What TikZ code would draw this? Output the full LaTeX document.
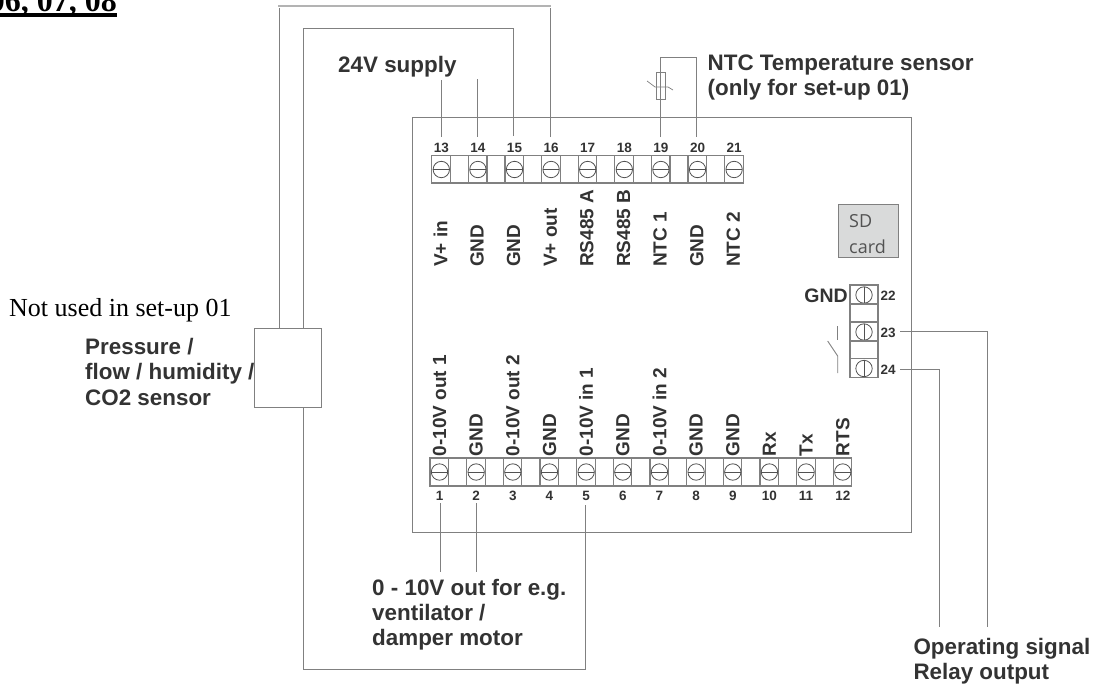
\documentclass[tikz,border=0pt]{standalone}
\usepackage{fontspec}
\setmainfont{Liberation Sans}
\newfontfamily\serifttl{Liberation Serif}
\newfontfamily\sdfont{Open Sans}
\definecolor{ink}{HTML}{333333}
\definecolor{wire}{HTML}{808080}
\definecolor{sdfill}{HTML}{D9DADA}
\tikzset{
  wireline/.style={draw=wire,line width=1pt},
  cellbox/.style={draw=wire,line width=1.2pt},
  screwc/.style={draw=ink!85,line width=0.8pt},
  lab/.style={font=\fontsize{22.4}{25.3}\selectfont\bfseries,text=ink,align=left,anchor=base west,inner sep=0pt},
  num/.style={font=\fontsize{13.5}{15}\selectfont\bfseries,text=ink,inner sep=0pt},
  vlab/.style={font=\fontsize{19}{22}\selectfont\bfseries,text=ink,rotate=90,inner sep=0pt},
}
\newcommand{\screwH}[2]{\draw[screwc] (#1,#2) circle (8.2pt); \draw[screwc] (#1-8.2,#2) -- (#1+8.2,#2);}
\newcommand{\screwV}[2]{\draw[screwc] (#1,#2) circle (8.2pt); \draw[screwc] (#1,#2-8.2) -- (#1,#2+8.2);}
\begin{document}
\begin{tikzpicture}[x=1pt,y=-1pt]
\useasboundingbox (0,0) rectangle (1097,686);
\clip (0,0) rectangle (1097,686);
% board
\node[draw=wire,line width=1.3pt,inner sep=0pt,anchor=north west,minimum width=499pt,minimum height=415pt] (board) at (412,117) {};
% top strip
\foreach \i/\n/\l in {0/13/V+ in,1/14/GND,2/15/GND,3/16/V+ out,4/17/RS485 A,5/18/RS485 B,6/19/NTC 1,7/20/GND,8/21/NTC 2}{
  \pgfmathsetmacro{\xx}{441.3+36.6*\i}
  \draw[cellbox] (\xx-9.5,155.5) rectangle (\xx+9,183);
  \ifnum\i<8 \draw[cellbox] (\xx+9,155.5) rectangle (\xx+27.1,183);\fi
  \screwH{\xx}{169.5}
  \node[num] at (\xx,148) {\n};
  \node[vlab,anchor=west] at (\xx-0.8,267) {\l};
}
% bottom strip
\foreach \i/\n/\l in {0/1/0-10V out 1,1/2/GND,2/3/0-10V out 2,3/4/GND,4/5/0-10V in 1,5/6/GND,6/7/0-10V in 2,7/8/GND,8/9/GND,9/10/Rx,10/11/Tx,11/12/RTS}{
  \pgfmathsetmacro{\xx}{439.5+36.66*\i}
  \draw[cellbox] (\xx-9.5,458) rectangle (\xx+9,486);
  \ifnum\i<11 \draw[cellbox] (\xx+9,458) rectangle (\xx+27.2,486);\fi
  \screwH{\xx}{472}
  \node[num] at (\xx,496) {\n};
  \node[vlab,anchor=west] at (\xx,456.5) {\l};
}
% right strip
\foreach \y/\n in {295/22,332/23,368.5/24}{
  \draw[cellbox] (850,\y-10) rectangle (878,\y+9);
  \screwV{864}{\y}
  \node[num] at (888,\y+1) {\n};
}
\draw[cellbox] (850,304) rectangle (878,322.3);
\draw[cellbox] (850,341) rectangle (878,358.7);
% SD
\node[draw=wire,fill=sdfill,line width=1pt,anchor=north west,minimum width=60pt,minimum height=53pt,inner sep=0pt] (sd) at (838,204) {};
\node[font=\sdfont\fontsize{18}{25.5}\selectfont,text=ink!85,align=left,anchor=base west,inner sep=0pt] (sdt) at (849,253) {SD\\card};
% sensor
\node[draw=wire,line width=1pt,anchor=north west,minimum width=67.5pt,minimum height=79pt,inner sep=0pt] (sensor) at (253.5,328) {};
% wires
\coordinate (t13) at (441,137);\coordinate (e13) at (441,80);
\coordinate (t14) at (477,137);\coordinate (e14) at (477,79);
\coordinate (t15) at (513.5,136);\coordinate (t16) at (550,137);
\coordinate (t19) at (660,137);\coordinate (t20) at (696,137);
\draw[wireline] (e13)--(t13);
\draw[wireline] (e14)--(t14);
\draw[wireline] (t15)--(513.5,28.5)--(303.5,28.5)--(303.5,328);
\draw[wireline] (303.5,407)--(303.5,669)--(585.7,669)--(585.7,505);
\draw[wireline] (t16)--(550,8);
\draw[draw=wire!60,line width=1.8pt] (278,6)--(551,6);
\draw[wireline] (279.5,8)--(279.5,328);
\draw[wireline] (t19)--(660,57)--(696,57)--(t20);
\node[draw=wire,line width=1pt,fill=white,anchor=north west,minimum width=8.5pt,minimum height=26.5pt,inner sep=0pt] (ntc) at (656,72.3) {};
\draw[wireline,line width=.8pt] (660,72)--(660,99);
\draw[draw=wire,line width=.7pt] (647,81)--(655,87)--(668,87)--(673,90);
\draw[wireline] (440.5,503)--(440.5,572);
\draw[wireline] (476,503)--(476,572);
\draw[wireline] (900,331)--(987.5,331)--(987.5,627);
\draw[wireline] (900,369)--(939.5,369)--(939.5,627);
\draw[draw=wire,line width=.9pt] (837.7,326)--(837.7,340);
\draw[draw=wire,line width=.9pt] (827.7,341)--(837.7,356)--(837.7,373);
% labels
\node[lab] at (338,72.5) {24V supply};
\node[lab] at (707.5,95.3) {NTC Temperature sensor\\(only for set-up 01)};
\node[lab] at (85,405) {Pressure /\\flow / humidity /\\CO2 sensor};
\node[lab,font=\fontsize{19.5}{23}\selectfont\bfseries,anchor=base east] at (848,302) {GND};
\node[lab] at (372,645.6) {0 - 10V out for e.g.\\ventilator /\\damper motor};
\node[lab] at (913.3,679.5) {Operating signal\\Relay output};
\node[font=\serifttl\fontsize{26}{30}\selectfont,text=black,inner sep=0pt,anchor=base west] at (9,316.7) {Not used in set-up 01};
\node[font=\serifttl\bfseries\fontsize{32}{36}\selectfont,text=black,inner sep=0pt,anchor=base east] (title) at (117,11.7) {06, 07, 08};
\fill (0,12.7) rectangle (117,16.7);
\end{tikzpicture}
\end{document}
